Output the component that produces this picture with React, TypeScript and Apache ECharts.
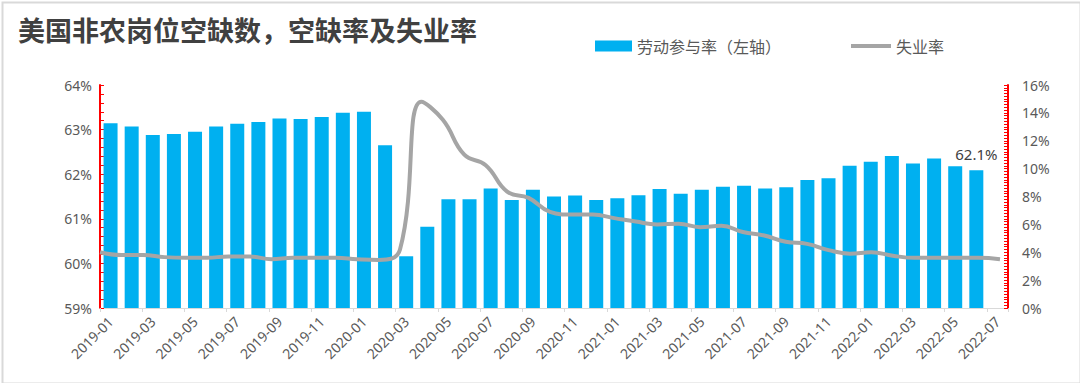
import React, { useEffect, useRef } from "react";
import * as echarts from "echarts";

const TITLE = "美国非农岗位空缺数，空缺率及失业率";
const BAR_NAME = "劳动参与率（左轴）";
const LINE_NAME = "失业率";

const months = [
  "2019-01", "2019-02", "2019-03", "2019-04", "2019-05", "2019-06", "2019-07", "2019-08", "2019-09", "2019-10", "2019-11", "2019-12",
  "2020-01", "2020-02", "2020-03", "2020-04", "2020-05", "2020-06", "2020-07", "2020-08", "2020-09", "2020-10", "2020-11", "2020-12",
  "2021-01", "2021-02", "2021-03", "2021-04", "2021-05", "2021-06", "2021-07", "2021-08", "2021-09", "2021-10", "2021-11", "2021-12",
  "2022-01", "2022-02", "2022-03", "2022-04", "2022-05", "2022-06", "2022-07",
];

// Labour force participation rate (left axis, %)
const participation: (number | null)[] = [
  63.14, 63.07, 62.88, 62.9, 62.95, 63.07, 63.13, 63.17, 63.25, 63.24, 63.28, 63.38, 63.4,
  62.65, 60.16,
  60.82, 61.44, 61.44, 61.68, 61.42, 61.65, 61.5, 61.52, 61.42, 61.46, 61.53, 61.67, 61.56,
  61.65, 61.72, 61.74, 61.68, 61.71, 61.87, 61.91, 62.19, 62.28, 62.41, 62.24, 62.35, 62.18, 62.09,
  null,
];

// Unemployment rate (right axis, %)
const unemployment = [
  4.0, 3.8, 3.8, 3.65, 3.6, 3.6, 3.7, 3.7, 3.5, 3.6, 3.6, 3.6, 3.5, 3.45, 4.2,
  14.8, 13.5, 11.0, 10.25, 8.35, 7.9, 6.9, 6.7, 6.7, 6.45, 6.2, 6.0, 6.05, 5.8,
  5.9, 5.45, 5.2, 4.75, 4.6, 4.15, 3.9, 4.0, 3.75, 3.6, 3.6, 3.6, 3.6, 3.5,
];

const leftTicks = { min: 59, max: 64, interval: 1 };
const rightTicks = { min: 0, max: 16, interval: 2 };

const BLUE = "#00B0F0";
const GRAY = "#A5A5A5";
const RED = "#FF0000";
const TEXT = "#595959";

export default function App() {
  const ref = useRef<HTMLDivElement>(null);

  useEffect(() => {
    if (!ref.current) return;
    const chart = echarts.init(ref.current, undefined, { renderer: "svg" });

    let lastIdx = -1;
    participation.forEach((v, i) => {
      if (v !== null) lastIdx = i;
    });

    const barData = participation.map((v, i) =>
      i === lastIdx
        ? {
            value: v,
            label: {
              show: true,
              position: "top",
              distance: 9,
              formatter: (p: any) => Number(p.value).toFixed(1) + "%",
              color: "#404040",
              fontSize: 15,
              fontFamily: "Noto Sans",
            },
          }
        : v
    );

    const top = 85;
    const bottom = 75;

    chart.setOption({
      animation: false,
      backgroundColor: "#ffffff",
      title: {
        text: TITLE,
        left: 18,
        top: 16,
        padding: 0,
        textStyle: {
          fontSize: 27,
          fontWeight: "bold",
          color: "#404040",
          fontFamily: "Noto Sans CJK SC",
        },
      },
      graphic: [
        {
          type: "rect",
          left: 0,
          top: 0,
          shape: { x: 1, y: 1, width: 1078, height: 381 },
          style: { fill: "none", stroke: "#D9D9D9", lineWidth: 2 },
          silent: true,
        },
      ],
      legend: [
        {
          data: [BAR_NAME],
          left: 590,
          top: 33,
          icon: "rect",
          itemWidth: 37,
          itemHeight: 11,
          textStyle: { color: TEXT, fontSize: 16, fontFamily: "Noto Sans CJK SC" },
        },
        {
          data: [LINE_NAME],
          left: 846,
          top: 33,
          icon: "rect",
          itemWidth: 40,
          itemHeight: 4,
          textStyle: { color: TEXT, fontSize: 16, fontFamily: "Noto Sans CJK SC" },
        },
      ],
      grid: [
        { left: 100, right: 72, top, bottom, containLabel: false },
        { left: 100, right: 80, top, bottom, containLabel: false },
      ],
      xAxis: [
        {
          type: "category",
          gridIndex: 0,
          data: months,
          boundaryGap: true,
          axisLine: { lineStyle: { color: "#D9D9D9", width: 1 } },
          axisTick: { show: true, interval: 1, length: 4, lineStyle: { color: "#D9D9D9" } },
          axisLabel: {
            interval: 1,
            rotate: 45,
            color: TEXT,
            fontSize: 14,
            fontFamily: "Noto Sans",
            margin: 11,
          },
        },
        {
          type: "category",
          gridIndex: 1,
          data: months,
          boundaryGap: false,
          show: false,
        },
      ],
      yAxis: [
        {
          type: "value",
          gridIndex: 0,
          position: "left",
          min: leftTicks.min,
          max: leftTicks.max,
          interval: leftTicks.interval,
          axisLine: { show: true, lineStyle: { color: RED, width: 2 } },
          axisTick: { show: true, inside: true, length: 4, lineStyle: { color: RED, width: 1 } },
          minorTick: { show: true, splitNumber: 5, length: 4, lineStyle: { color: RED, width: 1 } },
          splitLine: { show: false },
          axisLabel: {
            formatter: "{value}%",
            color: TEXT,
            fontSize: 14,
            fontFamily: "Noto Sans",
            margin: 8,
          },
        },
        {
          type: "value",
          gridIndex: 0,
          position: "right",
          min: rightTicks.min,
          max: rightTicks.max,
          interval: rightTicks.interval,
          axisLine: { show: true, lineStyle: { color: RED, width: 2 } },
          axisTick: { show: true, inside: true, length: 4, lineStyle: { color: RED, width: 1 } },
          minorTick: { show: true, splitNumber: 10, length: 4, lineStyle: { color: RED, width: 1 } },
          splitLine: { show: false },
          axisLabel: {
            formatter: "{value}%",
            color: TEXT,
            fontSize: 14,
            fontFamily: "Noto Sans",
            margin: 14,
          },
        },
        {
          type: "value",
          gridIndex: 1,
          min: rightTicks.min,
          max: rightTicks.max,
          interval: rightTicks.interval,
          show: false,
          splitLine: { show: false },
        },
      ],
      series: [
        {
          name: BAR_NAME,
          type: "bar",
          xAxisIndex: 0,
          yAxisIndex: 0,
          data: barData,
          barWidth: 14,
          itemStyle: { color: BLUE },
          z: 2,
        },
        {
          name: LINE_NAME,
          type: "line",
          xAxisIndex: 1,
          yAxisIndex: 2,
          data: unemployment,
          smooth: 0.45,
          symbol: "none",
          showSymbol: false,
          lineStyle: { color: GRAY, width: 4 },
          itemStyle: { color: GRAY },
          z: 5,
        },
      ],
    });

    return () => chart.dispose();
  }, []);

  return (
    <div
      ref={ref}
      style={{ position: "fixed", left: 0, top: 0, width: 1080, height: 383 }}
    />
  );
}
